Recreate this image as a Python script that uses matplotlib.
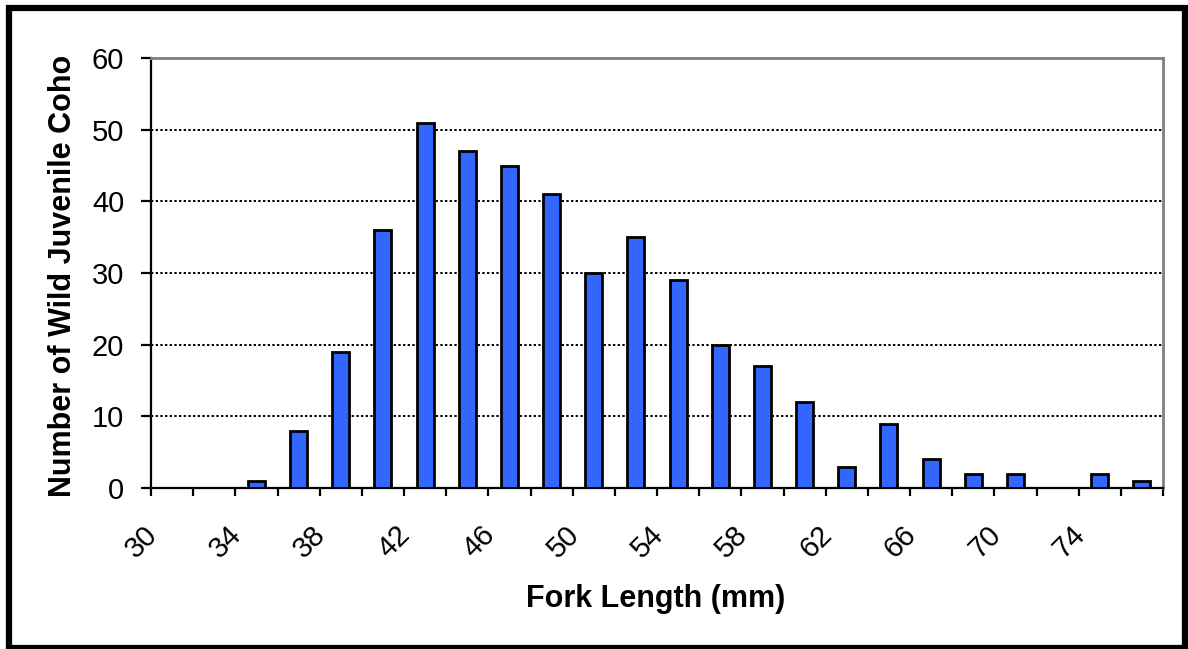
import matplotlib
matplotlib.use("Agg")
import matplotlib.pyplot as plt
import matplotlib.transforms as mtransforms
from matplotlib.patches import Rectangle
import numpy as np

plt.rcParams['font.family'] = ['Liberation Sans', 'DejaVu Sans']

# Fork length bins (mm, lower edge) and fish counts
bin_starts = [30, 32, 34, 36, 38, 40, 42, 44, 46, 48, 50, 52,
              54, 56, 58, 60, 62, 64, 66, 68, 70, 72, 74, 76]
counts = [0, 0, 1, 8, 19, 36, 51, 47, 45, 41, 30, 35,
          29, 20, 17, 12, 3, 9, 4, 2, 2, 0, 2, 1]
bin_width = 2
label_values = [30, 34, 38, 42, 46, 50, 54, 58, 62, 66, 70, 74]
y_ticks = [0, 10, 20, 30, 40, 50, 60]

W, H = 1188, 649
fig = plt.figure(figsize=(W / 100, H / 100), dpi=100)
ax = fig.add_axes([151 / W, 1 - 488 / H, (1163 - 151) / W, (488 - 58) / H])

centers = np.array(bin_starts) + bin_width / 2
ax.bar(centers, counts, width=0.8, color="#3366FF", edgecolor="black",
       linewidth=2.0, zorder=3)

# tick marks on every bin edge; labels drawn separately below
edges = list(bin_starts) + [bin_starts[-1] + bin_width]
ax.set_xticks(edges)
ax.set_xticklabels([""] * len(edges))
ax.tick_params(axis="x", direction="out", length=6, width=1.6)

# rotated edge labels, every other edge, set a little left of the edge
label_tf = mtransforms.offset_copy(ax.get_xaxis_transform(), fig=fig,
                                   x=-9.5, y=-54, units="dots")
for v in label_values:
    ax.text(v, 0, str(v), transform=label_tf, rotation=45, ha="center",
            va="center", rotation_mode="anchor", fontsize=21, clip_on=False)

ax.set_yticks(y_ticks)
ax.set_yticklabels([str(v) for v in y_ticks], fontsize=21)
ax.tick_params(axis="y", direction="out", length=7.2, width=1.6, pad=12)

ax.set_xlim(bin_starts[0], bin_starts[-1] + bin_width)
ax.set_ylim(0, 60)

# dotted horizontal gridlines
for v in y_ticks[1:-1]:
    ax.axhline(v, color="black", linestyle=(0, (1.2, 1.2)), linewidth=1.4, zorder=1)

for side in ("left", "bottom"):
    ax.spines[side].set_color("black")
    ax.spines[side].set_linewidth(1.6)
for side in ("top", "right"):
    ax.spines[side].set_color("#808080")
    ax.spines[side].set_linewidth(2.0)

ax.set_xlabel("Fork Length (mm)", fontsize=22, fontweight="bold")
ax.set_ylabel("Number of Wild Juvenile Coho", fontsize=22, fontweight="bold")
ax.xaxis.set_label_coords((656 - 151) / (1163 - 151), -(584 - 488) / (488 - 58))
ax.yaxis.set_label_coords(-(151 - 78) / (1163 - 151), (488 - 276) / (488 - 58))

# outer chart frame
fig.patches.append(Rectangle((8.5 / W, 1 - 647.5 / H), (1185 - 8.5) / W, (647.5 - 7.5) / H,
                             transform=fig.transFigure, fill=False,
                             edgecolor="black", linewidth=4.5))

fig.savefig("out.png", dpi=100, facecolor="white")
